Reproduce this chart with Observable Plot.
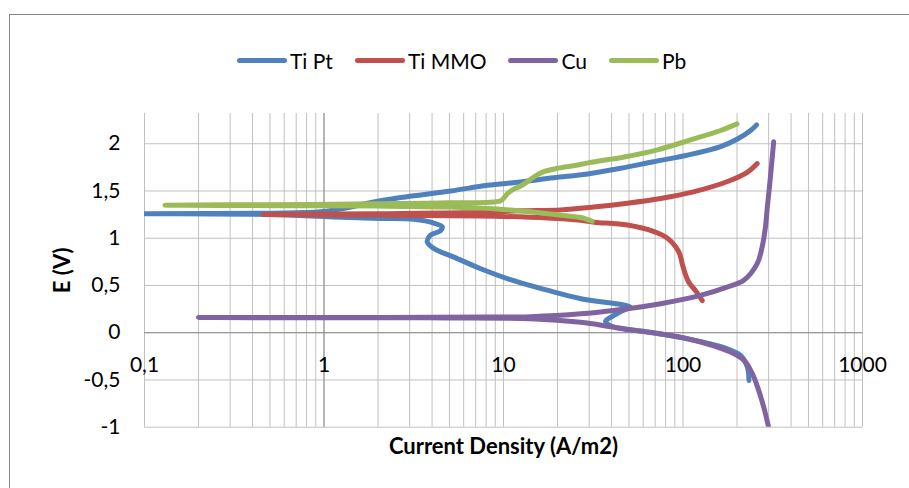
<!DOCTYPE html>
<html><head><meta charset="utf-8">
<script src="https://cdn.jsdelivr.net/npm/d3@7"></script>
<script src="https://cdn.jsdelivr.net/npm/@observablehq/plot@0.6"></script>
<style>
body{margin:0;background:#fff;font-family:Lato,"Open Sans",sans-serif;}
#wrap{position:relative;width:909px;height:488px;overflow:hidden;background:#fff;}
#frame{position:absolute;left:9px;top:14px;width:1200px;height:1200px;border:1px solid #868686;pointer-events:none;z-index:5;}
#legend{position:absolute;top:48px;left:237px;height:24px;display:flex;justify-content:flex-start;align-items:center;font-size:21px;color:#000;white-space:nowrap;}
.item{display:flex;align-items:center;margin-right:22px;}
.item:last-child{margin-right:0;}
.swatch{width:50px;height:5px;border-radius:3px;margin-right:3px;}
#chart{position:absolute;top:100px;left:0;}
</style></head>
<body>
<div id="wrap">
  <div id="frame"></div>
  <div id="legend"></div>
  <div id="chart"></div>
</div>
<script>
// ---- data ----
const seriesNames = ["Ti Pt", "Ti MMO", "Cu", "Pb"];
const xTitle = "Current Density (A/m2)";
const yTitle = "E (V)";
const xTicks = [0.1, 1, 10, 100, 1000];
const xTickLabels = ["0,1", "1", "10", "100", "1000"];
const yTicks = [-1, -0.5, 0, 0.5, 1, 1.5, 2];
const yTickLabels = ["-1", "-0,5", "0", "0,5", "1", "1,5", "2"];

// Ti Pt: current density (A/m2) and potential E (V), in sweep order
const tiPtCurrent = [233, 228, 209, 176, 136, 97, 63, 41, 37, 41, 47, 51, 27, 17.5, 11.4, 7.4, 5.3, 4.1, 3.76, 3.9, 4.46, 4.56, 4.1, 3.16, 2.06, 1.13, 0.5, 0.1, 0.5, 0.96, 1.41, 1.75, 2.67, 5.07, 8.14, 12.4, 19, 29.4, 44.9, 68.5, 106, 162, 201, 238, 257];
const tiPtE       = [-0.505, -0.36, -0.24, -0.17, -0.11, -0.05, 0.01, 0.06, 0.12, 0.18, 0.24, 0.27, 0.36, 0.45, 0.55, 0.68, 0.80, 0.89, 0.96, 1.03, 1.08, 1.12, 1.16, 1.20, 1.21, 1.225, 1.25, 1.26, 1.265, 1.28, 1.33, 1.37, 1.43, 1.50, 1.56, 1.595, 1.64, 1.68, 1.74, 1.81, 1.88, 1.97, 2.05, 2.14, 2.20];

// Ti MMO
const tiMmoCurrent = [128, 118, 108, 103, 99, 96, 91, 82, 69, 49, 32, 27, 17.5, 7.4, 2.06, 0.46, 2, 8, 12.4, 20.8, 31.7, 49, 75, 114, 177, 229, 259];
const tiMmoE       = [0.34, 0.44, 0.53, 0.62, 0.73, 0.83, 0.91, 1.00, 1.07, 1.14, 1.17, 1.19, 1.215, 1.235, 1.245, 1.25, 1.26, 1.275, 1.29, 1.30, 1.33, 1.37, 1.42, 1.49, 1.60, 1.70, 1.79];

// Cu
const cuCurrent = [300, 282, 264, 243, 218, 184, 136, 97, 63, 40.7, 26.9, 14.1, 5, 2, 0.2, 2, 8, 14.1, 26.9, 49, 75, 125, 176, 218, 259, 276, 288, 294, 307, 320];
const cuE       = [-1.0, -0.79, -0.61, -0.43, -0.29, -0.205, -0.117, -0.047, 0.006, 0.06, 0.11, 0.148, 0.157, 0.159, 0.16, 0.162, 0.165, 0.17, 0.20, 0.254, 0.307, 0.395, 0.483, 0.554, 0.731, 0.907, 1.12, 1.30, 1.65, 2.02];

// Pb
const pbCurrent = [31.2, 26.9, 21.6, 14.1, 9.2, 4.9, 2, 0.5, 0.13, 0.5, 2, 4.9, 9.6, 10.1, 10.5, 11.4, 12.4, 13.6, 14.8, 16.5, 19.5, 25, 30, 47, 72, 110, 162, 200];
const pbE       = [1.18, 1.22, 1.24, 1.28, 1.31, 1.33, 1.34, 1.345, 1.35, 1.355, 1.365, 1.375, 1.395, 1.43, 1.47, 1.52, 1.55, 1.60, 1.65, 1.70, 1.735, 1.77, 1.80, 1.86, 1.935, 2.04, 2.14, 2.21];

// ---- styles ----
const colors = ["#4F81BD", "#C0504D", "#8064A2", "#9BBB59"];

const toRows = (cur, e) => cur.map((c, i) => ({current: c, E: e[i]}));
const series = [
  toRows(tiPtCurrent, tiPtE),
  toRows(tiMmoCurrent, tiMmoE),
  toRows(cuCurrent, cuE),
  toRows(pbCurrent, pbE)
];

// legend
const legend = document.getElementById("legend");
seriesNames.forEach((name, i) => {
  const item = document.createElement("div");
  item.className = "item";
  const sw = document.createElement("div");
  sw.className = "swatch";
  sw.style.background = colors[i];
  const t = document.createElement("span");
  t.textContent = name;
  item.appendChild(sw); item.appendChild(t);
  legend.appendChild(item);
});

const xGrid = d3.scaleLog().domain([xTicks[0], xTicks[xTicks.length - 1]]).ticks();
const yCross = 0, xCross = 1;

const chart = Plot.plot({
  width: 909, height: 388,
  marginLeft: 144, marginRight: 47, marginTop: 13, marginBottom: 61.3,
  style: {fontFamily: "Lato, 'Open Sans', sans-serif", fontSize: "21px", background: "transparent", color: "#000"},
  x: {type: "log", domain: [0.1, 1000], axis: null},
  y: {domain: [-1, 2.32]},
  marks: [
    Plot.ruleX(xGrid, {stroke: "#c0c0c0", strokeWidth: 1}),
    Plot.ruleY(yTicks, {stroke: "#c0c0c0", strokeWidth: 1}),
    Plot.ruleX([xCross], {stroke: "#8c8c8c", strokeWidth: 1}),
    Plot.ruleY([yCross], {stroke: "#8c8c8c", strokeWidth: 1}),
    Plot.axisY(yTicks, {tickSize: 0, tickPadding: 24, label: null, tickFormat: d => yTickLabels[yTicks.indexOf(d)]}),
    Plot.text(xTicks, {x: d => d, y: () => yCross, text: d => xTickLabels[xTicks.indexOf(d)], dy: 33}),
    Plot.text([xTitle], {frameAnchor: "bottom", lineAnchor: "middle", textAnchor: "middle", dy: 20, fontSize: 22, fontWeight: "bold", text: d => d}),
    Plot.text([yTitle], {frameAnchor: "left", lineAnchor: "middle", textAnchor: "middle", dx: -82, rotate: -90, fontSize: 22, fontWeight: "bold", text: d => d}),
    ...series.map((rows, i) => Plot.line(rows, {
      x: "current", y: "E", stroke: colors[i], strokeWidth: 5,
      curve: "catmull-rom", strokeLinecap: "round", strokeLinejoin: "round", clip: true
    }))
  ]
});
document.getElementById("chart").appendChild(chart);
</script>
</body></html>
